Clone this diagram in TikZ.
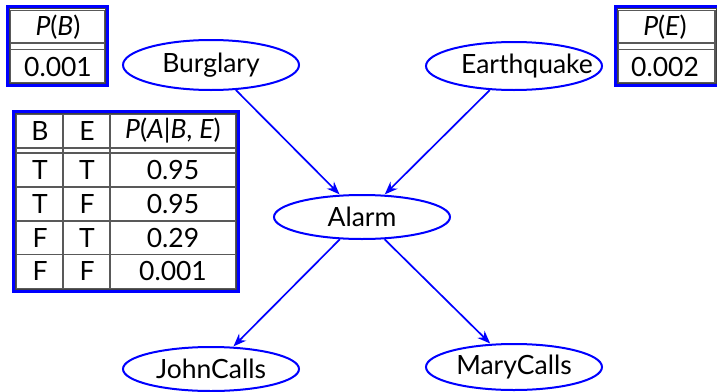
\documentclass[tikz,border=0pt]{standalone}
\usepackage{fontspec}
\setmainfont{Lato}
\usetikzlibrary{arrows.meta,shapes.geometric}
\begin{document}
\begin{tikzpicture}[x=1pt,y=-1pt,
  font=\fontsize{26.5}{30}\selectfont,
  var/.style={ellipse, draw=blue, line width=2pt, minimum width=176pt, minimum height=46pt, inner sep=0pt},
  edge/.style={-{Stealth[length=13pt,width=10pt]}, blue, line width=1.7pt, shorten >=0.5pt},
  frame/.style={draw=blue, line width=3pt},
  innerframe/.style={draw=black!75, line width=0.6pt},
  cell/.style={draw=black!65, line width=1.1pt},
  txt/.style={inner sep=0pt, anchor=center}]
\clip (0,0) rectangle (717,391);
\fill[white] (0,0) rectangle (717,391);

% ---- network nodes ----
\node[var, minimum height=50pt] (B) at (211,65) {Burglary};
\node[var, minimum height=48pt, inner xsep=-60pt] (E) at (514,66) {\hspace*{26pt}Earthquake};
\node[var, minimum height=44pt] (A) at (362,217) {Alarm};
\node[var, minimum height=44pt] (J) at (211,369) {JohnCalls};
\node[var, minimum height=46pt] (M) at (514,367) {MaryCalls};

\draw[edge] (B) -- (A);
\draw[edge] (E) -- (A);
\draw[edge] (A) -- (J);
\draw[edge] (A) -- (M);

% ---- P(B) table ----
\draw[frame] (7.5,6.5) rectangle (107.5,85.5);
\draw[innerframe] (9.3,8.3) rectangle (105.7,83.7);
\draw[cell] (10.8,10.8) rectangle (104.5,82.5);
\draw[cell] (10.8,43) -- (104.5,43);
\draw[cell] (10.8,49.5) -- (104.5,49.5);
\node[txt] (pbh) at (58,27) {\textit{P}(\textit{B})};
\node[txt] (pbv) at (58,67) {0.001};

% ---- P(E) table ----
\draw[frame] (615.5,6.5) rectangle (718.5,85.5);
\draw[innerframe] (617.3,8.3) rectangle (716.7,83.7);
\draw[cell] (618.8,10.8) rectangle (715,82.5);
\draw[cell] (618.8,43) -- (715,43);
\draw[cell] (618.8,49.5) -- (715,49.5);
\node[txt] (peh) at (665,27) {\textit{P}(\textit{E})};
\node[txt] (pev) at (665,67) {0.002};

% ---- P(A|B,E) table ----
\draw[frame] (13.5,111.5) rectangle (238.5,291.5);
\draw[innerframe] (15.3,113.3) rectangle (236.7,289.7);
\draw[cell] (16.8,114.8) rectangle (235.2,288.2);
\draw[cell] (16.8,148) -- (235.2,148);
\draw[cell] (16.8,153) -- (235.2,153);
\draw[cell] (16.8,187) -- (235.2,187);
\draw[cell] (16.8,221) -- (235.2,221);
\draw[cell] (16.8,254.5) -- (235.2,254.5);
\draw[cell] (63,114.8) -- (63,288.2);
\draw[cell] (110,114.8) -- (110,288.2);

\node[txt] (hb) at (40,131) {B};
\node[txt] (he) at (87,131) {E};
\node[txt] (hp) at (173,131) {\textit{P}(\textit{A}|\textit{B}, \textit{E})};

\node[txt] (b1) at (40,170) {T};
\node[txt] (e1) at (87,170) {T};
\node[txt] (p1) at (173,170) {0.95};
\node[txt] (b2) at (40,204) {T};
\node[txt] (e2) at (87,204) {F};
\node[txt] (p2) at (173,204) {0.95};
\node[txt] (b3) at (40,238) {F};
\node[txt] (e3) at (87,238) {T};
\node[txt] (p3) at (173,238) {0.29};
\node[txt] (b4) at (40,271) {F};
\node[txt] (e4) at (87,271) {F};
\node[txt] (p4) at (173,271) {0.001};
\end{tikzpicture}
\end{document}
